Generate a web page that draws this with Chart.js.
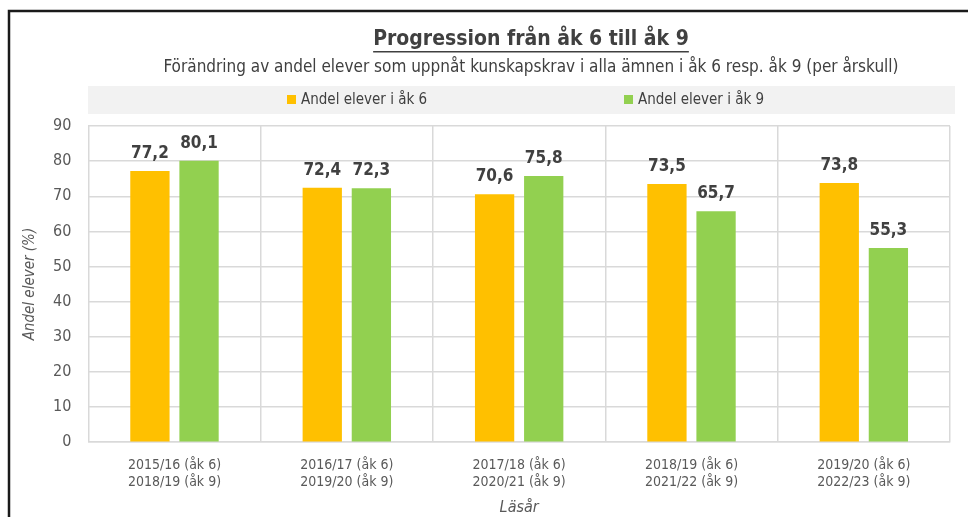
<!DOCTYPE html>
<html>
<head>
<meta charset="utf-8">
<script src="https://cdn.jsdelivr.net/npm/chart.js@4"></script>
<style>
  body { margin: 0; background: #fff; }
  #wrap { width: 968px; height: 517px; }
</style>
</head>
<body>
<div id="wrap"><canvas id="myChart" width="968" height="517"></canvas></div>
<script>
let labels = [
    ['2015/16 (åk 6)', '2018/19 (åk 9)'],
    ['2016/17 (åk 6)', '2019/20 (åk 9)'],
    ['2017/18 (åk 6)', '2020/21 (åk 9)'],
    ['2018/19 (åk 6)', '2021/22 (åk 9)'],
    ['2019/20 (åk 6)', '2022/23 (åk 9)']
]
let ak6 = [77.2, 72.4, 70.6, 73.5, 73.8]
let ak9 = [80.1, 72.3, 75.8, 65.7, 55.3]
let seriesNames = ['Andel elever i åk 6', 'Andel elever i åk 9']
let colorHex = ['#FFC000', '#92D050']

let fontFam = "'Liberation Sans Narrow', 'DejaVu Sans Condensed', 'Roboto', sans-serif"

// frame, title, subtitle and legend band
let decorations = {
    id: 'decorations',
    beforeDraw(chart) {
        let c = chart.ctx
        c.save()
        c.fillStyle = '#fff'
        c.fillRect(0, 0, chart.width, chart.height)
        c.strokeStyle = '#1a1a1a'
        c.lineWidth = 2.5
        c.beginPath()
        c.moveTo(9, chart.height)
        c.lineTo(9, 11)
        c.lineTo(chart.width, 11)
        c.stroke()

        c.textAlign = 'center'
        c.textBaseline = 'middle'
        c.fillStyle = '#404040'
        c.font = 'bold 21px ' + fontFam
        let t = 'Progression från åk 6 till åk 9'
        c.fillText(t, 531, 40)
        let w = c.measureText(t).width
        c.fillRect(531 - w / 2, 51, w, 1.5)

        c.font = '17px ' + fontFam
        c.fillText('Förändring av andel elever som uppnåt kunskapskrav i alla ämnen i åk 6 resp. åk 9 (per årskull)', 531, 68)

        c.fillStyle = '#f2f2f2'
        c.fillRect(88, 86, 867, 28)
        let lx = [287, 624]
        c.font = '15px ' + fontFam
        c.textAlign = 'left'
        for (let i = 0; i < 2; i++) {
            c.fillStyle = colorHex[i]
            c.fillRect(lx[i], 95, 9, 9)
            c.fillStyle = '#404040'
            c.fillText(seriesNames[i], lx[i] + 14, 100)
        }
        c.restore()
    }
}

let valueLabels = {
    id: 'valueLabels',
    afterDatasetsDraw(chart) {
        let c = chart.ctx
        c.save()
        c.font = 'bold 17px ' + fontFam
        c.fillStyle = '#404040'
        c.textAlign = 'center'
        c.textBaseline = 'alphabetic'
        chart.data.datasets.forEach((ds, i) => {
            chart.getDatasetMeta(i).data.forEach((bar, j) => {
                c.fillText(ds.data[j].toFixed(1).replace('.', ','), bar.x, bar.y - 13)
            })
        })
        c.restore()
    }
}

let ctx = document.getElementById('myChart').getContext('2d')
let myChart = new Chart(ctx, {
    type: 'bar',
    data: {
        labels: labels,
        datasets: [
            { label: seriesNames[0], data: ak6, backgroundColor: colorHex[0] },
            { label: seriesNames[1], data: ak9, backgroundColor: colorHex[1] }
        ]
    },
    options: {
        responsive: false,
        animation: false,
        categoryPercentage: 0.57,
        barPercentage: 0.8,
        layout: { padding: { left: 17, right: 18, top: 126, bottom: 0 } },
        plugins: {
            legend: { display: false },
            title: { display: false },
            tooltip: { enabled: false }
        },
        scales: {
            x: {
                grid: { color: '#d9d9d9', lineWidth: 1.5, offset: true, drawTicks: false },
                border: { color: '#d9d9d9', width: 1.5 },
                ticks: { color: '#595959', font: { family: fontFam, size: 14 }, padding: 15 },
                title: { display: true, text: 'Läsår', color: '#595959', font: { family: fontFam, size: 16, style: 'italic' }, padding: { top: -8, bottom: 0 } }
            },
            y: {
                min: 0,
                max: 90,
                ticks: { stepSize: 10, color: '#595959', font: { family: fontFam, size: 16 }, padding: 17 },
                grid: { color: '#d9d9d9', lineWidth: 1.5, drawTicks: false },
                border: { display: false },
                title: { display: true, text: 'Andel elever (%)', color: '#595959', font: { family: fontFam, size: 15, style: 'italic' }, padding: { top: 4, bottom: -3 } }
            }
        }
    },
    plugins: [decorations, valueLabels]
})
</script>
</body>
</html>
